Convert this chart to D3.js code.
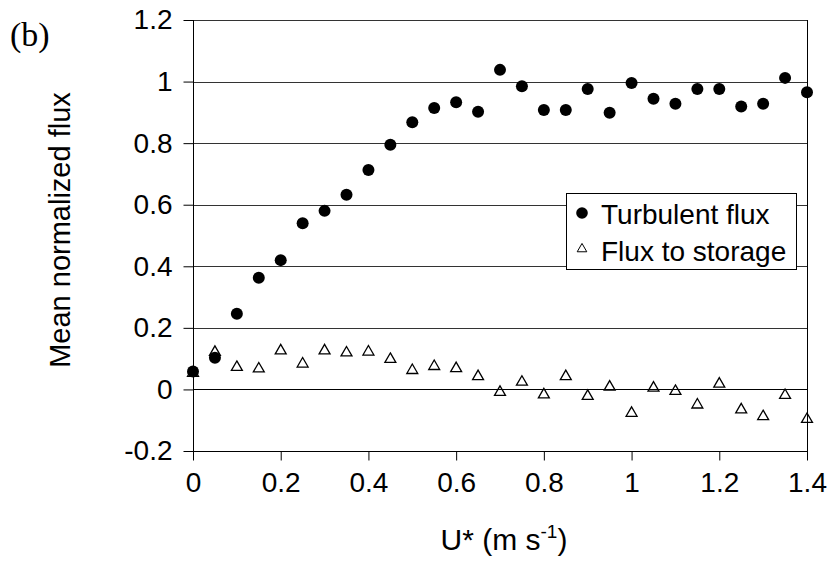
<!DOCTYPE html>
<html>
<head>
<meta charset="UTF-8">
<title>Mean normalized flux vs U*</title>
<script src="https://d3js.org/d3.v7.min.js"></script>
<style>
    body { margin: 0; background: #fff; }
    svg text { font-family: "Liberation Sans", Arial, sans-serif; fill: #000; }
    .axis path, .axis line { stroke: #000; }
    .grid-line { stroke: #222; stroke-width: 1; }
</style>
</head>
<body>
<script>
    // u* values (m s-1)
    var ustar = [0, 0.05, 0.1, 0.15, 0.2, 0.25, 0.3, 0.35, 0.4, 0.45, 0.5, 0.55, 0.6, 0.65, 0.7,
        0.75, 0.8, 0.85, 0.9, 0.95, 1.0, 1.05, 1.1, 1.15, 1.2, 1.25, 1.3, 1.35, 1.4];
    var turbulent = [0.058, 0.103, 0.246, 0.363, 0.42, 0.54, 0.58, 0.632, 0.713, 0.795, 0.868, 0.914, 0.933, 0.902, 1.038,
        0.985, 0.908, 0.908, 0.976, 0.899, 0.995, 0.944, 0.928, 0.976, 0.976, 0.919, 0.928, 1.012, 0.965];
    var storage = [0.053, 0.121, 0.072, 0.067, 0.126, 0.083, 0.126, 0.119, 0.122, 0.098, 0.062, 0.075, 0.068, 0.042, -0.009,
        0.024, -0.017, 0.042, -0.022, 0.008, -0.077, 0.005, -0.006, -0.05, 0.018, -0.066, -0.088, -0.019, -0.097];
    var xTicks = [0, 0.2, 0.4, 0.6, 0.8, 1, 1.2, 1.4];
    var xTickLabels = ["0", "0.2", "0.4", "0.6", "0.8", "1", "1.2", "1.4"];
    var yTicks = [-0.2, 0, 0.2, 0.4, 0.6, 0.8, 1, 1.2];
    var yTickLabels = ["-0.2", "0", "0.2", "0.4", "0.6", "0.8", "1", "1.2"];
    var seriesNames = ["Turbulent flux", "Flux to storage"];

    var width = 830, height = 562;
    var plotLeft = 193, plotRight = 807, plotTop = 20, plotBottom = 451;

    var svg = d3.select("body").append("svg")
        .attr("width", width)
        .attr("height", height);

    var x = d3.scaleLinear().domain([0, 1.4]).range([plotLeft, plotRight]);
    var y = d3.scaleLinear().domain([-0.2, 1.2]).range([plotBottom, plotTop]);

    // horizontal grid lines
    svg.append("g")
        .selectAll("line")
        .data(yTicks.filter(function (d) { return d > -0.2; }))
        .enter().append("line")
        .attr("class", "grid-line")
        .attr("x1", plotLeft).attr("x2", plotRight)
        .attr("y1", function (d) { return Math.round(y(d)) + 0.5; })
        .attr("y2", function (d) { return Math.round(y(d)) + 0.5; })
        .style("stroke", function (d) { return d === 0 ? "#000" : "#333"; });

    // right border
    svg.append("line")
        .attr("x1", plotRight + 0.5).attr("x2", plotRight + 0.5)
        .attr("y1", plotTop).attr("y2", plotBottom)
        .attr("stroke", "#000");

    var yAxis = d3.axisLeft(y)
        .tickValues(yTicks)
        .tickSize(10)
        .tickPadding(11)
        .tickFormat(function (d, i) { return yTickLabels[i]; });

    var gy = svg.append("g")
        .attr("class", "axis")
        .attr("transform", "translate(" + (plotLeft + 0.5) + ",0)")
        .call(yAxis);
    gy.select(".domain").remove();
    gy.append("line").attr("x1", 0).attr("x2", 0).attr("y1", plotTop).attr("y2", plotBottom).attr("stroke", "#000");
    gy.selectAll("text").style("font-size", "28px").attr("fill", "#000");

    var xAxis = d3.axisBottom(x)
        .tickValues(xTicks)
        .tickSize(9)
        .tickPadding(12)
        .tickFormat(function (d, i) { return xTickLabels[i]; });

    var gx = svg.append("g")
        .attr("class", "axis")
        .attr("transform", "translate(0," + (plotBottom + 0.5) + ")")
        .call(xAxis);
    gx.select(".domain").remove();
    gx.append("line").attr("x1", plotLeft).attr("x2", plotRight + 1).attr("y1", 0).attr("y2", 0).attr("stroke", "#000");
    gx.selectAll("text").style("font-size", "28px").attr("fill", "#000");

    // storage (open triangles)
    var tri = d3.symbol().type(d3.symbolTriangle).size(52);
    svg.append("g")
        .selectAll("path")
        .data(ustar)
        .enter().append("path")
        .attr("d", tri)
        .attr("transform", function (d, i) { return "translate(" + x(d) + "," + y(storage[i]) + ")"; })
        .attr("fill", "none")
        .attr("stroke", "#000")
        .attr("stroke-width", 1.3);

    // turbulent flux (filled circles)
    svg.append("g")
        .selectAll("circle")
        .data(ustar)
        .enter().append("circle")
        .attr("cx", function (d) { return x(d); })
        .attr("cy", function (d, i) { return y(turbulent[i]); })
        .attr("r", 6)
        .attr("fill", "#000");

    // legend
    var lg = svg.append("g").attr("transform", "translate(566,193)");
    lg.append("rect")
        .attr("x", 0.5).attr("y", 0.5)
        .attr("width", 230).attr("height", 76)
        .attr("fill", "#fff")
        .attr("stroke", "#000");
    lg.append("circle").attr("cx", 16).attr("cy", 20).attr("r", 5.8).attr("fill", "#000");
    lg.append("path")
        .attr("d", d3.symbol().type(d3.symbolTriangle).size(40))
        .attr("transform", "translate(16,56)")
        .attr("fill", "none").attr("stroke", "#000");
    lg.selectAll("text.leg")
        .data(seriesNames)
        .enter().append("text")
        .attr("class", "leg")
        .attr("x", 35)
        .attr("y", function (d, i) { return 31 + i * 37; })
        .style("font-size", "28px")
        .text(function (d) { return d; });

    // axis titles
    var xt = svg.append("text")
        .attr("x", 504).attr("y", 550)
        .attr("text-anchor", "middle")
        .style("font-size", "30px");
    xt.append("tspan").text("U* (m s");
    xt.append("tspan").attr("dy", -12).style("font-size", "19px").text("-1");
    xt.append("tspan").attr("dy", 12).text(")");

    svg.append("text")
        .attr("transform", "translate(70,230) rotate(-90)")
        .attr("text-anchor", "middle")
        .style("font-size", "29px")
        .text("Mean normalized flux");

    svg.append("text")
        .attr("x", 10).attr("y", 46)
        .style("font-family", "'Liberation Serif', 'DejaVu Serif', serif")
        .style("font-size", "34px")
        .text("(b)");
</script>
</body>
</html>
